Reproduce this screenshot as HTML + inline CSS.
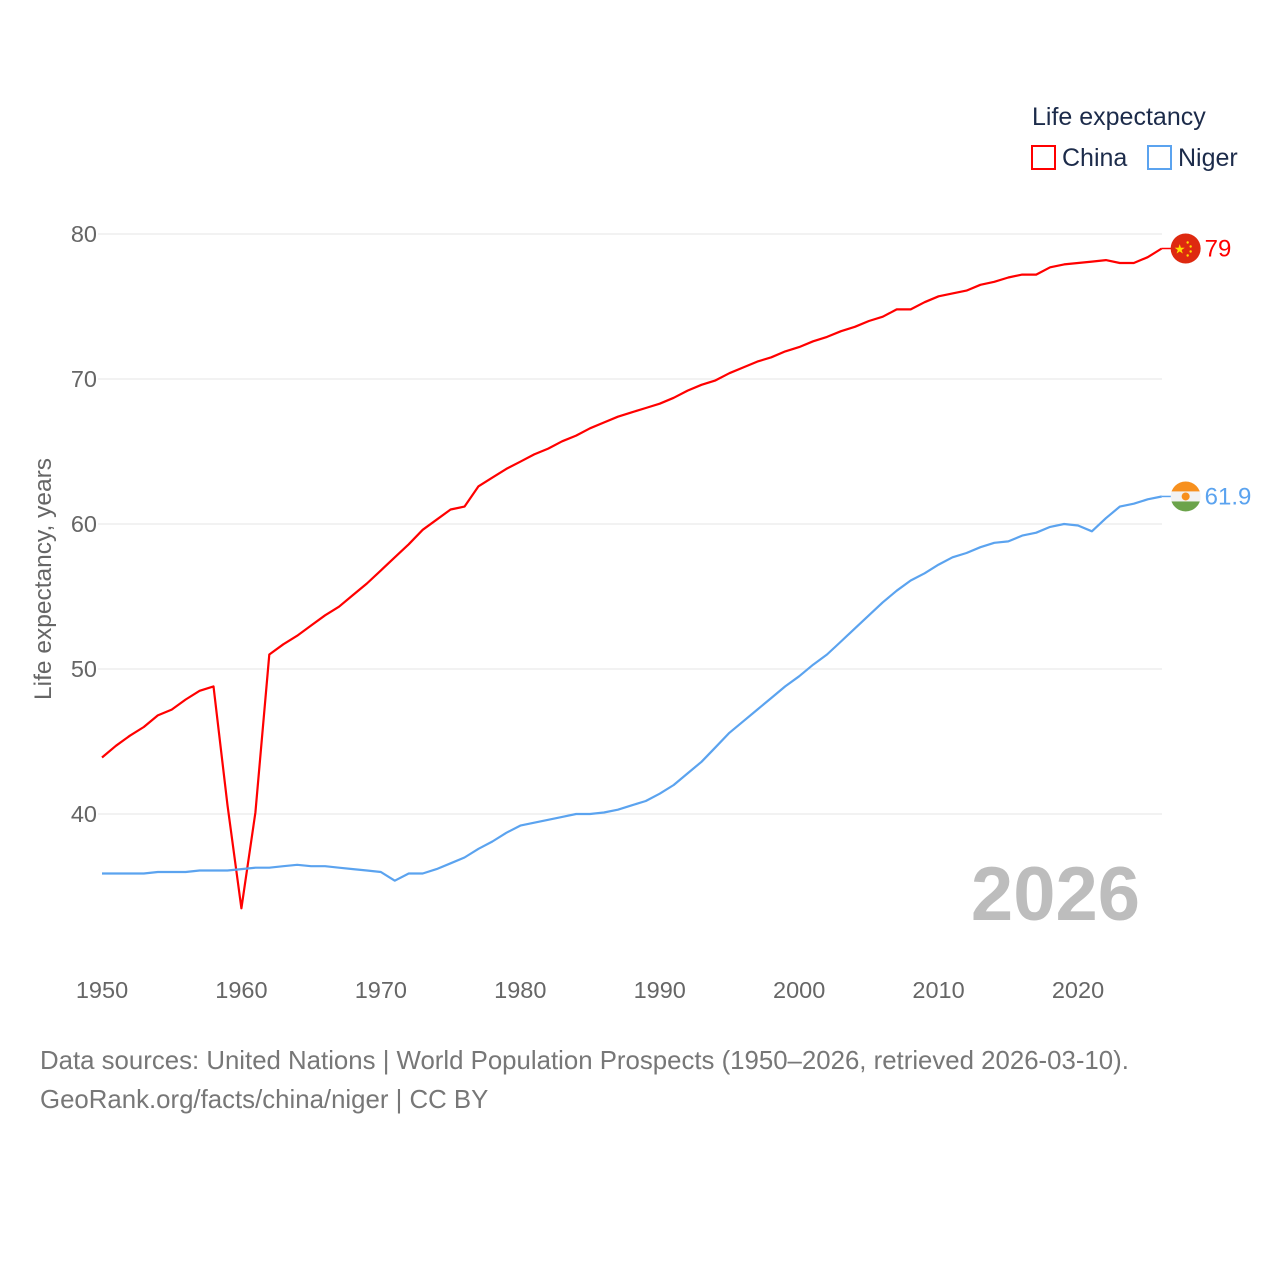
<!DOCTYPE html>
<html><head><meta charset="utf-8"><style>
body{margin:0;background:#fff;width:1280px;height:1280px;overflow:hidden;font-family:"Liberation Sans",sans-serif}
svg{display:block}
</style></head><body>
<svg id="chart" width="1280" height="1280" font-family="Liberation Sans, sans-serif">
<text x="1032" y="125" font-size="25" fill="#1c2b4a">Life expectancy</text>
<g><rect x="1032" y="146" width="23" height="23" fill="none" stroke="#f00" stroke-width="2"/><text x="1062" y="166" font-size="25" fill="#1c2b4a">China</text></g>
<g><rect x="1148" y="146" width="23" height="23" fill="none" stroke="#5ba3ef" stroke-width="2"/><text x="1178" y="166" font-size="25" fill="#1c2b4a">Niger</text></g>
<g id="grid"></g><g id="lines"></g>
<text x="51" y="579" font-size="24.5" fill="#666" text-anchor="middle" transform="rotate(-90 51 579)">Life expectancy, years</text>
<text x="1140" y="920" font-size="76" font-weight="bold" fill="#bdbdbd" text-anchor="end">2026</text>
<text x="40" y="1069" font-size="25.8" fill="#777">Data sources: United Nations | World Population Prospects (1950–2026, retrieved 2026-03-10).</text>
<text x="40" y="1108" font-size="25.8" fill="#777">GeoRank.org/facts/china/niger | CC BY</text>
</svg>
<script>
const years=[];for(let y=1950;y<=2026;y++)years.push(y);
const china=[43.9,44.7,45.4,46.0,46.8,47.2,47.9,48.5,48.8,40.6,33.5,40.1,51.0,51.7,52.3,53.0,53.7,54.3,55.1,55.9,56.8,57.7,58.6,59.6,60.3,61.0,61.2,62.6,63.2,63.8,64.3,64.8,65.2,65.7,66.1,66.6,67.0,67.4,67.7,68.0,68.3,68.7,69.2,69.6,69.9,70.4,70.8,71.2,71.5,71.9,72.2,72.6,72.9,73.3,73.6,74.0,74.3,74.8,74.8,75.3,75.7,75.9,76.1,76.5,76.7,77.0,77.2,77.2,77.7,77.9,78.0,78.1,78.2,78.0,78.0,78.4,79.0];
const niger=[35.9,35.9,35.9,35.9,36.0,36.0,36.0,36.1,36.1,36.1,36.2,36.3,36.3,36.4,36.5,36.4,36.4,36.3,36.2,36.1,36.0,35.4,35.9,35.9,36.2,36.6,37.0,37.6,38.1,38.7,39.2,39.4,39.6,39.8,40.0,40.0,40.1,40.3,40.6,40.9,41.4,42.0,42.8,43.6,44.6,45.6,46.4,47.2,48.0,48.8,49.5,50.3,51.0,51.9,52.8,53.7,54.6,55.4,56.1,56.6,57.2,57.7,58.0,58.4,58.7,58.8,59.2,59.4,59.8,60.0,59.9,59.5,60.4,61.2,61.4,61.7,61.9];
const yTicks=[40,50,60,70,80];
const xTicks=[1950,1960,1970,1980,1990,2000,2010,2020];
const NS="http://www.w3.org/2000/svg";
const X=y=>102+(y-1950)*(1078-102)/70;
const Y=v=>234+(80-v)*14.5;
function mk(t,a,p){const e=document.createElementNS(NS,t);for(const k in a)e.setAttribute(k,a[k]);p.appendChild(e);return e;}
const grid=document.getElementById('grid'),lines=document.getElementById('lines');
yTicks.forEach(v=>{
 const l=mk('line',{x1:98,x2:1162,y1:Y(v),y2:Y(v),stroke:'#e6e6e6','stroke-width':1},grid);
 
 
 const t=mk('text',{x:97,y:Y(v)+8,'font-size':23.5,fill:'#666','text-anchor':'end'},grid);t.textContent=v;
 
 
});
xTicks.forEach(v=>{
 const t=mk('text',{x:X(v),y:998,'font-size':23.5,fill:'#666','text-anchor':'middle'},grid);t.textContent=v;
 
 
});
function series(vals,color,name,label,flag){
 const d=vals.map((v,i)=>(i?'L':'M')+X(years[i]).toFixed(1)+' '+Y(v).toFixed(1)).join(' ');
 const p=mk('path',{d:d,fill:'none',stroke:color,'stroke-width':2.2,'stroke-linejoin':'round'},lines);
 
 
 const lv=vals[vals.length-1],lx=X(years[years.length-1]),ly=Y(lv);
 mk('line',{x1:lx,x2:lx+12,y1:ly,y2:ly,stroke:color,'stroke-width':1.5},lines);
 const g=mk('g',{},lines);
 
 
 flag(g,lx+24,ly);
 const t=mk('text',{x:lx+43,y:ly+8,'font-size':24,fill:color},lines);t.textContent=label;
 
 
}
series(china,'#ff0000','china','79',(g,cx,cy)=>{
 mk('circle',{cx:cx,cy:cy,r:15,fill:'#de2910'},g);
 const s=mk('text',{x:cx-6,y:cy+5,'font-size':13,fill:'#ffde00','text-anchor':'middle'},g);s.textContent='★';
 [[2,-6],[5,-2],[5,3],[2,7]].forEach(o=>mk('circle',{cx:cx+o[0],cy:cy+o[1],r:1.2,fill:'#ffde00'},g));
});
series(niger,'#5ba3ef','niger','61.9',(g,cx,cy)=>{
 const cp=mk('clipPath',{id:'nclip'},g);mk('circle',{cx:cx,cy:cy,r:15},cp);
 const gg=mk('g',{'clip-path':'url(#nclip)'},g);
 mk('rect',{x:cx-15,y:cy-15,width:30,height:10,fill:'#f7901e'},gg);
 mk('rect',{x:cx-15,y:cy-5,width:30,height:10,fill:'#f2f2f2'},gg);
 mk('rect',{x:cx-15,y:cy+5,width:30,height:10,fill:'#6ba34a'},gg);
 mk('circle',{cx:cx,cy:cy,r:4,fill:'#f7901e'},gg);
});
</script>
</body></html>
